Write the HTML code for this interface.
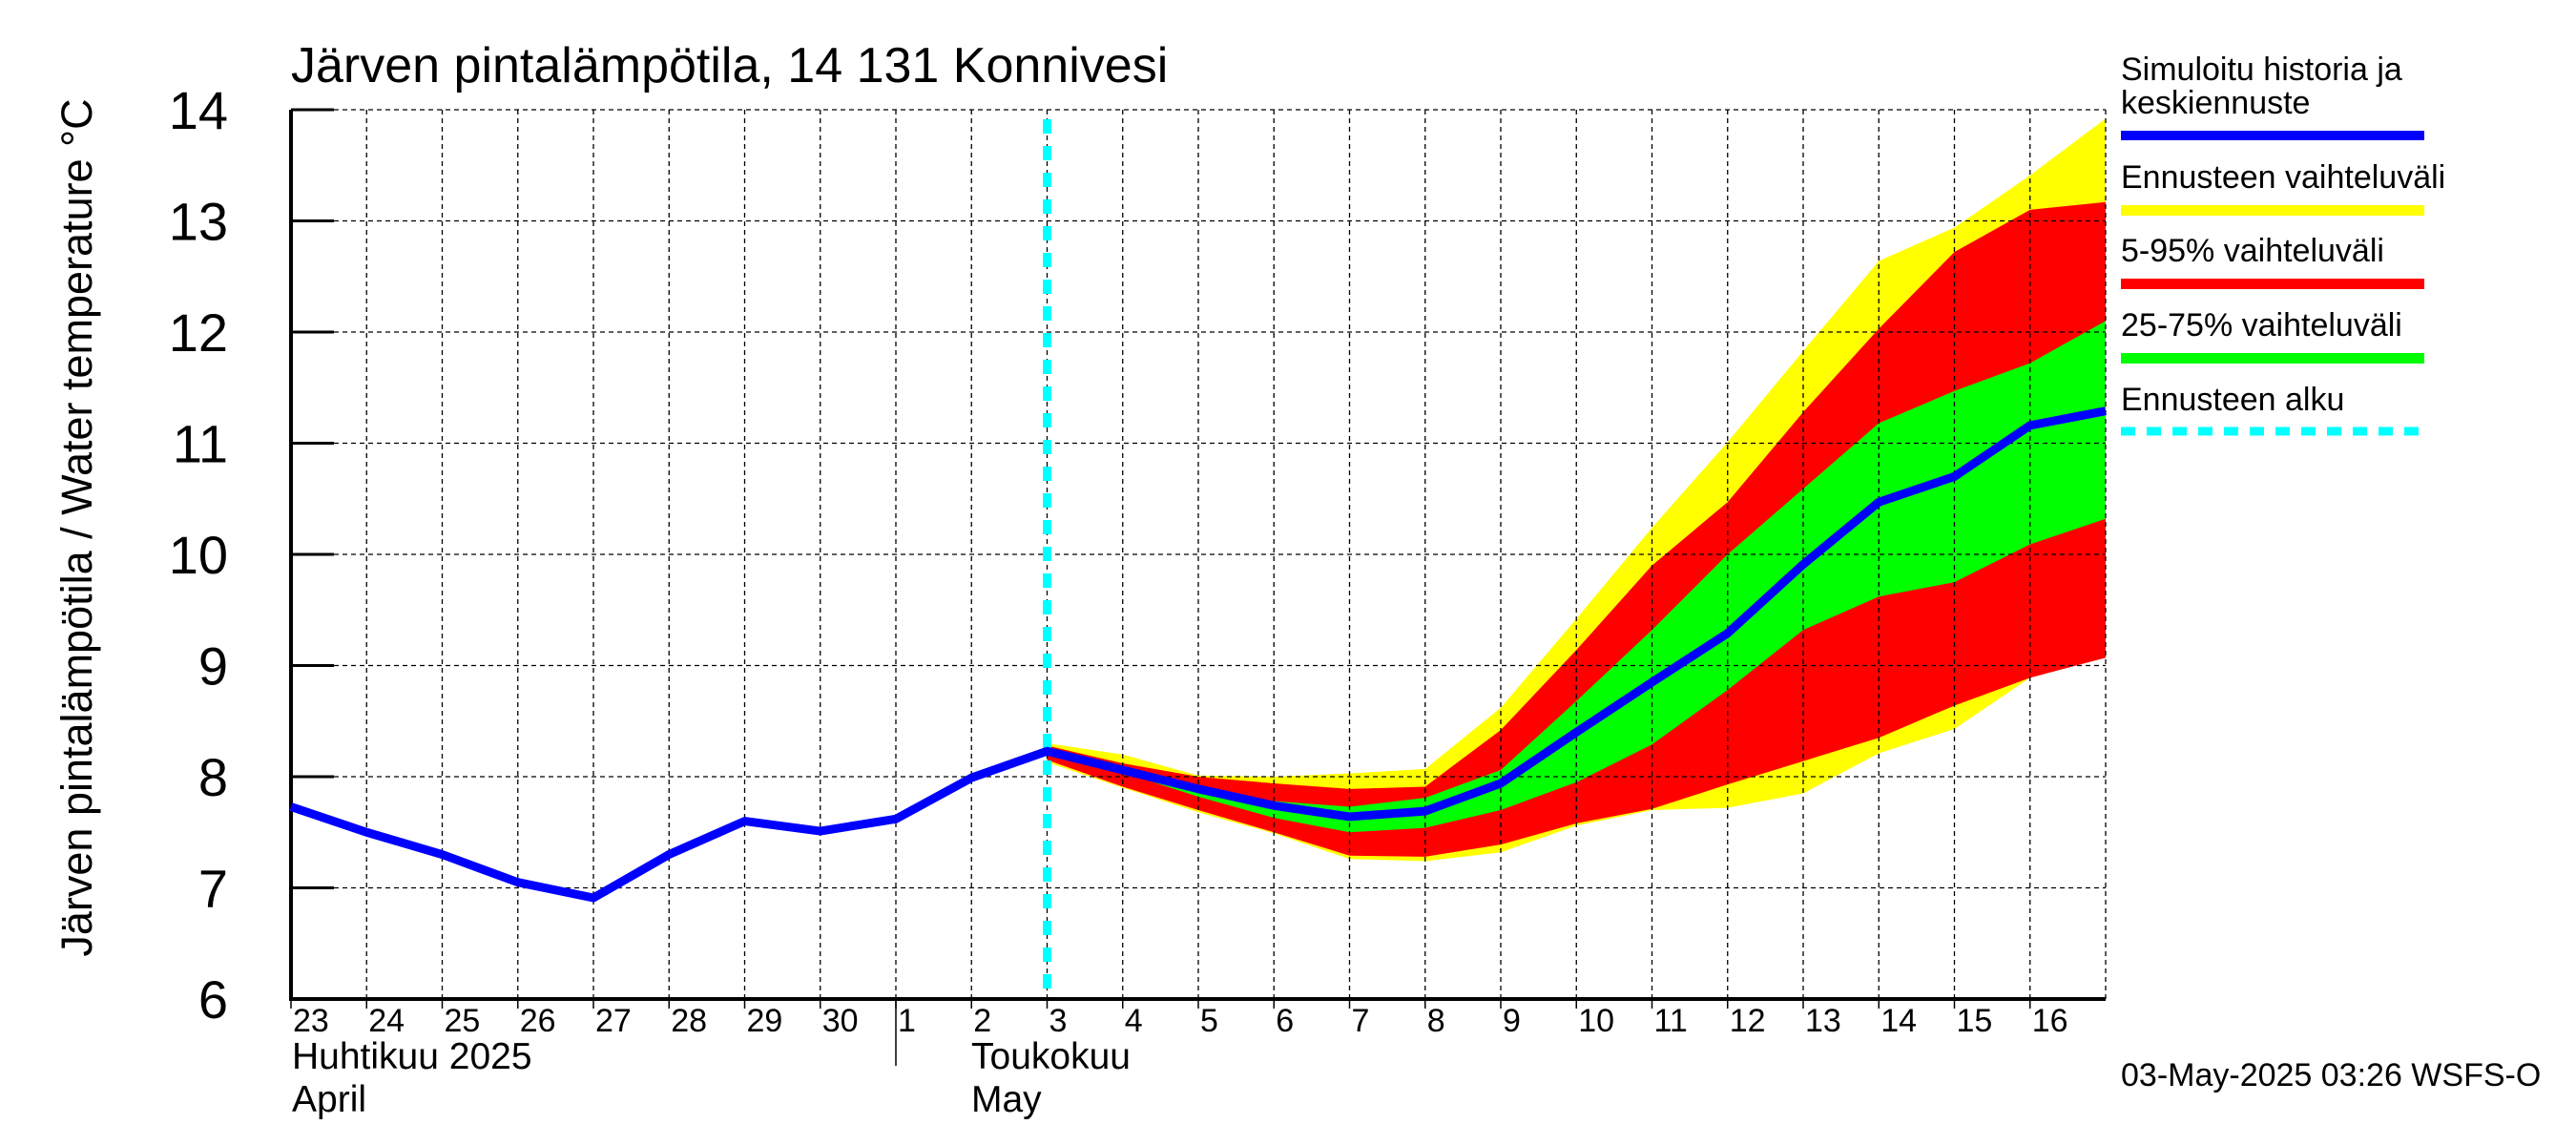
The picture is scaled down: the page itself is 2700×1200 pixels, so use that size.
<!DOCTYPE html>
<html><head><meta charset="utf-8"><style>
body{margin:0;background:#fff}
svg{display:block;font-family:"Liberation Sans",sans-serif}
</style></head><body>
<svg id="chart" width="2700" height="1200" viewBox="0 0 2700 1200" xmlns="http://www.w3.org/2000/svg">
<rect width="2700" height="1200" fill="#fff"/>
<g id="bands"></g>
<g id="grid"></g>
<g id="marks"></g>
<text x="305" y="86" font-size="52">Järven pintalämpötila, 14 131 Konnivesi</text>
<text transform="translate(96,553) rotate(-90)" text-anchor="middle" font-size="45">Järven pintalämpötila / Water temperature °C</text>
<text x="306" y="1120" font-size="39">Huhtikuu  2025</text>
<text x="306" y="1165" font-size="39">April</text>
<text x="1018" y="1120" font-size="39">Toukokuu</text>
<text x="1018" y="1165" font-size="39">May</text>
<line x1="939" y1="1047" x2="939" y2="1117" stroke="#000" stroke-width="1.5"/>
<g font-size="34">
<text x="2223" y="84">Simuloitu historia ja</text>
<text x="2223" y="119">keskiennuste</text>
<rect x="2223" y="137" width="318" height="10" fill="#0000ff"/>
<text x="2223" y="197">Ennusteen vaihteluväli</text>
<rect x="2223" y="215" width="318" height="11" fill="#ffff00"/>
<text x="2223" y="274">5-95% vaihteluväli</text>
<rect x="2223" y="292" width="318" height="11" fill="#ff0000"/>
<text x="2223" y="352">25-75% vaihteluväli</text>
<rect x="2223" y="370" width="318" height="11" fill="#00ff00"/>
<text x="2223" y="430">Ennusteen alku</text>
<line x1="2223" y1="452" x2="2541" y2="452" stroke="#00ffff" stroke-width="9" stroke-dasharray="15,12"/>
</g>
<text x="2223" y="1138" font-size="34">03-May-2025 03:26 WSFS-O</text>
</svg>
<script>
const dayLabels = ["23","24","25","26","27","28","29","30","1","2","3","4","5","6","7","8","9","10","11","12","13","14","15","16"];
const yTicks = [6,7,8,9,10,11,12,13,14];
const historyValues = [7.73,7.5,7.3,7.05,6.91,7.3,7.6,7.51,7.62,7.99,8.23];
const fcStartIndex = 10;
const medianFc = [8.23,8.06,7.89,7.74,7.64,7.69,7.94,8.40,8.85,9.29,9.91,10.47,10.70,11.16,11.29];
const yellowTop = [8.30,8.20,8.01,8.00,8.03,8.07,8.62,9.42,10.24,11.01,11.83,12.64,12.94,13.41,13.92];
const yellowBot = [8.13,7.90,7.68,7.49,7.26,7.24,7.32,7.56,7.70,7.72,7.85,8.21,8.43,8.89,9.08];
const redTop = [8.28,8.12,8.00,7.94,7.89,7.91,8.42,9.14,9.90,10.47,11.28,12.03,12.72,13.10,13.17];
const redBot = [8.15,7.91,7.70,7.50,7.29,7.28,7.39,7.58,7.71,7.93,8.14,8.35,8.64,8.89,9.07];
const greenTop = [8.24,8.08,7.91,7.78,7.73,7.81,8.06,8.68,9.32,10.00,10.59,11.18,11.47,11.72,12.10];
const greenBot = [8.21,8.04,7.82,7.63,7.50,7.54,7.70,7.95,8.29,8.78,9.32,9.62,9.75,10.09,10.32];

const X0=305, X1=2207, Y0=1047, Y1=115, NDAYS=24, YMIN=6, YMAX=14;
const xs = i => X0 + (X1-X0)*i/NDAYS;
const ys = v => Y0 - (Y0-Y1)*(v-YMIN)/(YMAX-YMIN);
const NS="http://www.w3.org/2000/svg";
function mk(tag, attrs, parent){const e=document.createElementNS(NS,tag);for(const k in attrs)e.setAttribute(k,attrs[k]);parent.appendChild(e);return e;}
const bands=document.getElementById('bands'), grid=document.getElementById('grid'), marks=document.getElementById('marks');

function band(top,bot,color,name){
  const pts=[];
  top.forEach((v,i)=>pts.push(xs(fcStartIndex+i)+","+ys(v)));
  for(let i=bot.length-1;i>=0;i--)pts.push(xs(fcStartIndex+i)+","+ys(bot[i]));
  const p=mk('polygon',{points:pts.join(' '),fill:color},bands);
  
  
}
band(yellowTop,yellowBot,'#ffff00','band-forecast-range');
band(redTop,redBot,'#ff0000','band-5-95');
band(greenTop,greenBot,'#00ff00','band-25-75');

// grid
for(let i=1;i<=NDAYS;i++){
  const g=mk('line',{x1:xs(i),y1:Y1,x2:xs(i),y2:Y0,stroke:'#000','stroke-width':1.3,'stroke-dasharray':'5,4'},grid);
  
  
}
yTicks.forEach(v=>{
  if(v>YMIN){
    const g=mk('line',{x1:X0,y1:ys(v),x2:X1,y2:ys(v),stroke:'#000','stroke-width':1.3,'stroke-dasharray':'5,4'},grid);
    
    
    const t=mk('line',{x1:X0,y1:ys(v),x2:X0+45,y2:ys(v),stroke:'#000','stroke-width':3},grid);
    
    
  }
  const l=mk('text',{x:239,y:ys(v)+20,'text-anchor':'end','font-size':56},grid);
  l.textContent=v;
  
  
});
dayLabels.forEach((d,i)=>{
  const t=mk('line',{x1:xs(i),y1:Y0,x2:xs(i),y2:Y0+10,stroke:'#000','stroke-width':1.5},grid);
  
  
  const l=mk('text',{x:xs(i)+2,y:1081,'font-size':34},grid);
  l.textContent=d;
  
  
});
const ax=mk('polyline',{points:`${X0},${Y1} ${X0},${Y0} ${X1},${Y0}`,fill:'none',stroke:'#000','stroke-width':4},grid);



// forecast start line
const fx=xs(fcStartIndex);
const cl=mk('line',{x1:fx,y1:125,x2:fx,y2:Y0,stroke:'#00ffff','stroke-width':9,'stroke-dasharray':'15,13'},marks);



// median line
const pts=[];
historyValues.forEach((v,i)=>pts.push(xs(i)+","+ys(v)));
medianFc.forEach((v,i)=>{if(i>0)pts.push(xs(fcStartIndex+i)+","+ys(v));});
const ml=mk('polyline',{points:pts.join(' '),fill:'none',stroke:'#0000ff','stroke-width':9,'stroke-linejoin':'round'},marks);


</script>
</body></html>
